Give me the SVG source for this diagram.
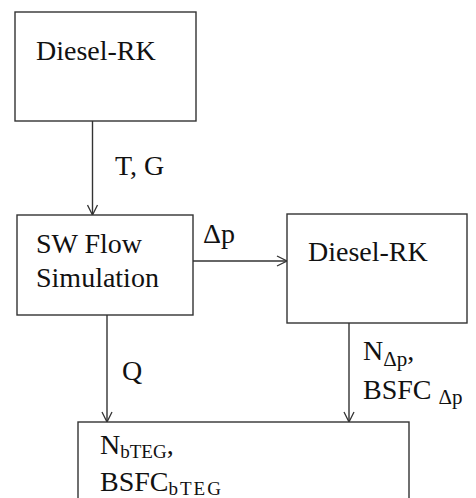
<svg xmlns="http://www.w3.org/2000/svg" width="476" height="498" viewBox="0 0 476 498" font-family="Liberation Serif, DejaVu Serif, serif">
<defs>
<style>
.box{fill:#fff;stroke:#333;stroke-width:1.4}
.t{font-family:'Liberation Serif','DejaVu Serif',serif;font-size:28px;fill:#111}
.s{font-size:19px}
.d{font-size:21px}
.c{stroke:#333;stroke-width:1.4;fill:none}
</style>
<marker id="ah" viewBox="0 0 12 12" refX="11" refY="6" markerWidth="12" markerHeight="12" markerUnits="userSpaceOnUse" orient="auto">
<path d="M1,1 L11,6 L1,11" fill="none" stroke="#333" stroke-width="1.3"/>
</marker>
</defs>
<rect width="476" height="498" fill="#fff"/>
<g id="connectors">
<line class="c" x1="92.5" y1="121" x2="92.5" y2="215" marker-end="url(#ah)"/>
<line class="c" x1="193" y1="261" x2="287" y2="261" marker-end="url(#ah)"/>
<line class="c" x1="107" y1="315" x2="107" y2="422" marker-end="url(#ah)"/>
<line class="c" x1="349" y1="323" x2="349" y2="422" marker-end="url(#ah)"/>
<text class="t" x="115" y="175">T, G</text>
<text class="t" x="203" y="243">Δp</text>
<text class="t" x="122" y="380">Q</text>
<text class="t" x="363" y="360">N<tspan class="d" dy="6">Δp</tspan><tspan dy="-6">,</tspan></text>
<text class="t" x="363" y="399">BSFC <tspan class="d" dy="5">Δp</tspan></text>
</g>
<g id="n1">
<rect class="box" x="15" y="12" width="181" height="109"/>
<text class="t" x="36" y="60">Diesel-RK</text>
</g>
<g id="n2">
<rect class="box" x="17" y="215" width="176" height="100"/>
<text class="t" x="36" y="253">SW Flow</text>
<text class="t" x="36" y="287">Simulation</text>
</g>
<g id="n3">
<rect class="box" x="287" y="214" width="180" height="109"/>
<text class="t" x="308" y="261">Diesel-RK</text>
</g>
<g id="n4">
<rect class="box" x="78" y="422" width="331" height="90"/>
<text class="t" x="100" y="454">N<tspan class="s" dy="4">bTEG</tspan><tspan dy="-4">,</tspan></text>
<text class="t" x="100" y="491">BSFC<tspan class="s" dy="4" letter-spacing="2">bTEG</tspan></text>
</g>
</svg>
